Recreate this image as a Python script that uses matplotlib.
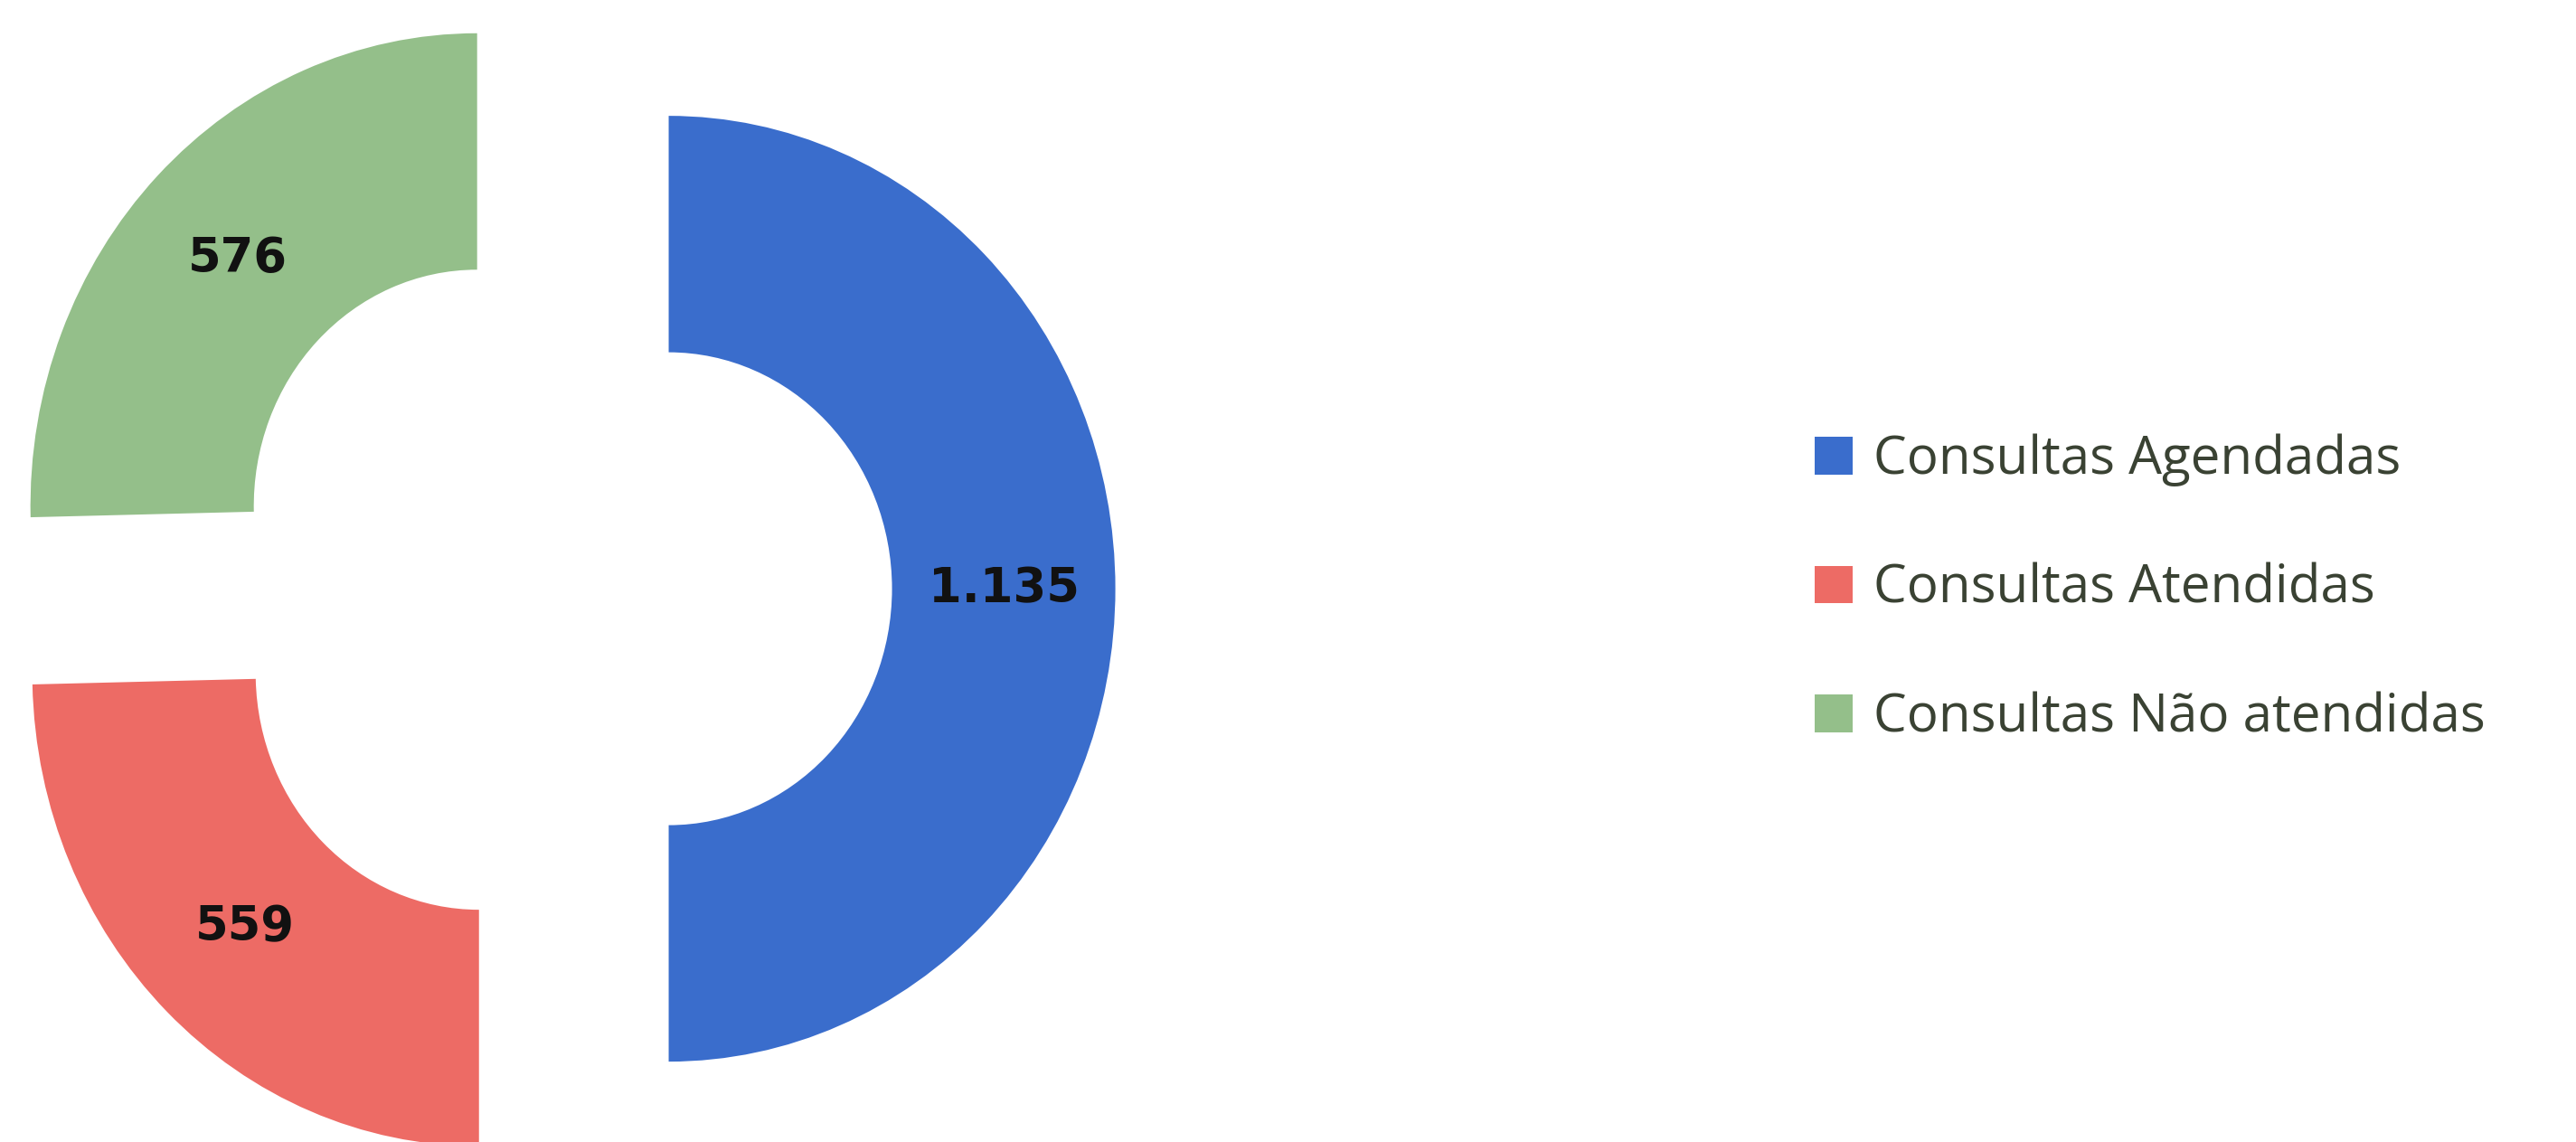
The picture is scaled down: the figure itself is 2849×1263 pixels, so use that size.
# Donut chart - consultas agendadas / atendidas / nao atendidas

import matplotlib
matplotlib.use("Agg")
import matplotlib.pyplot as plt

labels = ['Consultas Agendadas', 'Consultas Atendidas', 'Consultas Não atendidas']
values = [1135, 559, 576]
colors = ['#3a6dcc', '#ed6b65', '#94bf8a']
explode = [0.25, 0.25, 0.25]

total = sum(values)

def fmt_value(pct):
    v = int(round(pct * total / 100.0))
    return f"{v:,}".replace(',', '.')

fig = plt.figure(figsize=(28.49, 12.63), dpi=100)
ax = fig.add_axes([0, 0, 1, 1])

wedges, texts, autotexts = ax.pie(
    values, colors=colors, explode=explode, startangle=90, counterclock=False,
    radius=1, autopct=fmt_value, pctdistance=0.75,
    wedgeprops=dict(width=0.5, linewidth=0),
    textprops=dict(fontsize=38, fontweight='bold', color='#111111', family='DejaVu Sans'),
)

# chart is a bit stretched vertically in the original, so no equal aspect
ax.set_aspect('auto')
ax.set_xlim(-1.247, 4.520)
ax.set_ylim(-1.170, 1.245)
ax.axis('off')

fig.legend(wedges, labels, loc='center left', bbox_to_anchor=(0.7045, 0.484),
           bbox_transform=fig.transFigure, frameon=False, borderpad=0, borderaxespad=0,
           handlelength=0.72, handleheight=0.72, handletextpad=0.4, labelspacing=1.44,
           prop={'family': 'Open Sans', 'size': 42}, labelcolor='#3a4233')

fig.savefig('out.png', dpi=100, facecolor='white')
